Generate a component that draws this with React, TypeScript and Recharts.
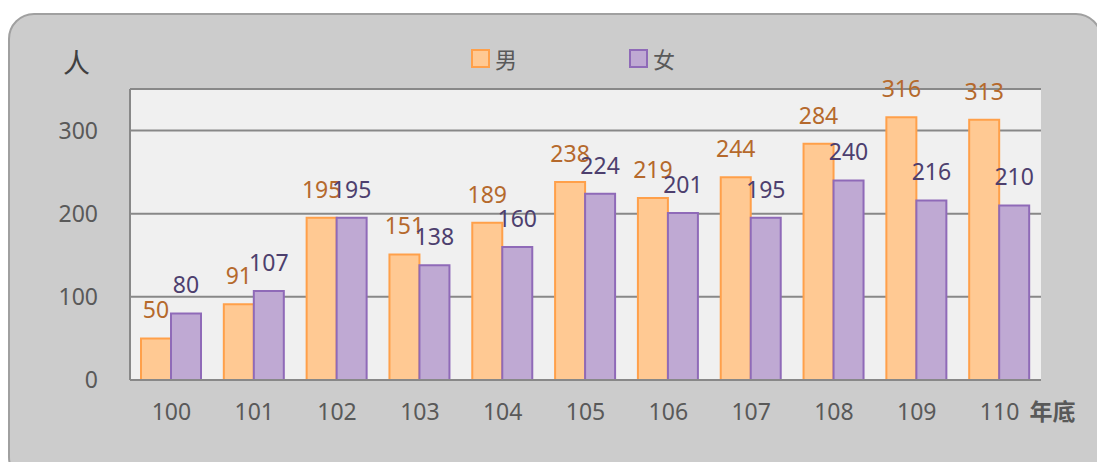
import React from "react";
import {
  BarChart,
  Bar,
  XAxis,
  YAxis,
  CartesianGrid,
  LabelList,
  ReferenceLine,
} from "recharts";

const years = ["100", "101", "102", "103", "104", "105", "106", "107", "108", "109", "110"];
const male = [50, 91, 195, 151, 189, 238, 219, 244, 284, 316, 313];
const female = [80, 107, 195, 138, 160, 224, 201, 195, 240, 216, 210];
const yTicks = [0, 100, 200, 300];

const data = years.map((y, i) => ({ year: y, male: male[i], female: female[i] }));

const FONT = "'Noto Sans', 'Noto Sans CJK TC', sans-serif";
const TEXT = "#595959";

const YearTick = (props: any) => {
  const { x, y, payload } = props;
  const last = payload.value === years[years.length - 1];
  return (
    <g>
      <text x={x} y={y} dy={16} textAnchor="middle" fill={TEXT} fontSize={23} fontFamily={FONT}>
        {payload.value}
      </text>
      {last && (
        <text x={x + 30} y={y} dy={16} textAnchor="start" fill={TEXT} fontSize={23} fontWeight={600} fontFamily={FONT}>
          年底
        </text>
      )}
    </g>
  );
};

const legendItems = [
  { name: "男", fill: "#ffc993", stroke: "#ffa04a" },
  { name: "女", fill: "#bfa9d3", stroke: "#8f6ab8" },
];

export default function App() {
  return (
    <div style={{ position: "absolute", left: 0, top: 0, width: 1097, height: 462, overflow: "hidden", background: "#fff" }}>
      <div
        style={{
          position: "absolute",
          left: 8,
          top: 13,
          width: 1094,
          height: 470,
          borderRadius: 26,
          background: "#cccccc",
          border: "2px solid #a0a0a0",
          boxSizing: "border-box",
        }}
      />
      <div style={{ position: "absolute", left: 63, top: 42, fontSize: 27, color: "#404040", fontFamily: FONT }}>
        人
      </div>
      <div style={{ position: "absolute", left: 471, top: 42, display: "flex", fontFamily: FONT }}>
        {legendItems.map((it) => (
          <div key={it.name} style={{ display: "flex", alignItems: "center", width: 158 }}>
            <span
              style={{
                width: 15,
                height: 15,
                background: it.fill,
                border: `2px solid ${it.stroke}`,
                marginRight: 5,
              }}
            />
            <span style={{ fontSize: 22, color: TEXT }}>{it.name}</span>
          </div>
        ))}
      </div>
      <div style={{ position: "absolute", left: 0, top: 0 }}>
        <BarChart
          width={1097}
          height={462}
          data={data}
          margin={{ top: 89, right: 56, bottom: 52, left: 30 }}
          barSize={30}
          barGap={0}
        >
          <CartesianGrid vertical={false} fill="#f0f0f0" stroke="#888888" strokeWidth={2} fillOpacity={1} />
          <XAxis
            dataKey="year"
            tick={<YearTick />}
            tickLine={false}
            axisLine={{ stroke: "#888888", strokeWidth: 2 }}
            tickMargin={18}
            interval={0}
          />
          <YAxis
            domain={[0, 350]}
            ticks={yTicks}
            width={100}
            tickLine={false}
            axisLine={{ stroke: "#888888", strokeWidth: 2 }}
            tick={{ fill: TEXT, fontSize: 23, fontFamily: FONT }}
            tickMargin={26}
          />
          <YAxis
            yAxisId="r"
            orientation="right"
            domain={[0, 350]}
            width={0}
            tick={false}
            tickLine={false}
            axisLine={{ stroke: "#888888", strokeWidth: 2 }}
          />
          <ReferenceLine y={350} stroke="#888888" strokeWidth={2} />
          <Bar dataKey="male" name="男" fill="#ffc993" stroke="#ffa04a" strokeWidth={2} isAnimationActive={false}>
            <LabelList dataKey="male" position="top" offset={20} fill="#b5692c" fontSize={23} fontFamily={FONT} />
          </Bar>
          <Bar dataKey="female" name="女" fill="#bfa9d3" stroke="#8f6ab8" strokeWidth={2} isAnimationActive={false}>
            <LabelList dataKey="female" position="top" offset={20} fill="#4d3f6e" fontSize={23} fontFamily={FONT} />
          </Bar>
        </BarChart>
      </div>
    </div>
  );
}
